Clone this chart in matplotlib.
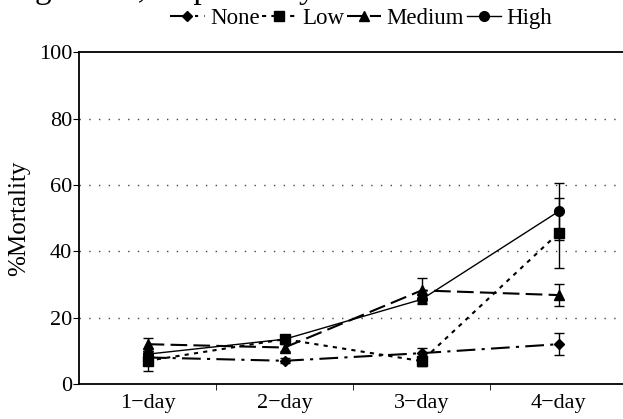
import numpy as np
import matplotlib.pyplot as plt
from matplotlib.lines import Line2D

plt.rcParams['font.family'] = ['Liberation Serif', 'DejaVu Serif']

days = ['1\u2212day', '2\u2212day', '3\u2212day', '4\u2212day']
x = np.arange(len(days))

none_y = [8.0, 7.0, 9.3, 12.0]
none_err = [1.0, 0.8, 1.5, 3.3]
low_y = [7.0, 13.5, 6.9, 45.5]
low_err = [3.0, 1.0, 1.5, 10.5]
med_y = [12.0, 11.0, 28.2, 26.8]
med_err = [2.0, 1.0, 3.8, 3.2]
high_y = [9.0, 13.5, 25.5, 52.0]
high_err = [1.0, 1.0, 1.5, 8.5]

styles = [
    ('None', none_y, none_err, dict(marker='D', ms=5, lw=1.5, dashes=[9, 3, 1.5, 3])),
    ('Low', low_y, low_err, dict(marker='s', ms=7, lw=1.5, dashes=[2, 2.5])),
    ('Medium', med_y, med_err, dict(marker='^', ms=7, lw=1.5, dashes=[8, 3])),
    ('High', high_y, high_err, dict(marker='o', ms=7, lw=1.0)),
]

fig = plt.figure(figsize=(6.23, 4.19), dpi=100)
ax = fig.add_axes([0.127, 0.0835, 0.873, 0.792])

handles = []
for name, yv, ev, st in styles:
    ax.errorbar(x, yv, yerr=ev, color='black', ecolor='black', elinewidth=1.0,
                capsize=3.5, capthick=1.0, **st)
    handles.append(Line2D([], [], color='black', label=name, **st))

ax.set_xlim(-0.5, 3.47)
ax.set_ylim(0, 100)
ax.set_yticks([0, 20, 40, 60, 80, 100])
ax.set_xticks(x)
ax.set_xticklabels(days)
ax.set_xticks([0.5, 1.5, 2.5], minor=True)
ax.tick_params(axis='x', which='major', length=0, labelsize=16, pad=7)
ax.tick_params(axis='x', which='minor', length=4, direction='out')
ax.tick_params(axis='y', length=4, direction='out', labelsize=16, pad=1)
for yy in [20, 40, 60, 80]:
    ax.axhline(yy, color='#444444', lw=1.0, ls=(0, (1, 6)), zorder=0)
ax.spines['right'].set_visible(False)
for s in ['left', 'bottom', 'top']:
    ax.spines[s].set_linewidth(1.3)
ax.set_ylabel('%Mortality', fontsize=18, labelpad=6)

fig.legend(handles=handles, loc='center', bbox_to_anchor=(0.58, 0.955), ncol=4,
           frameon=False, fontsize=16.5, handlelength=1.5, handletextpad=0.25,
           columnspacing=0.1, borderpad=0)
# caption text from the page above, cut off at the top edge
fig.text(0.056, 1 + 2 / 419, 'g levels, respectively.', fontsize=24, va='baseline')

fig.savefig('out.png', dpi=100)
